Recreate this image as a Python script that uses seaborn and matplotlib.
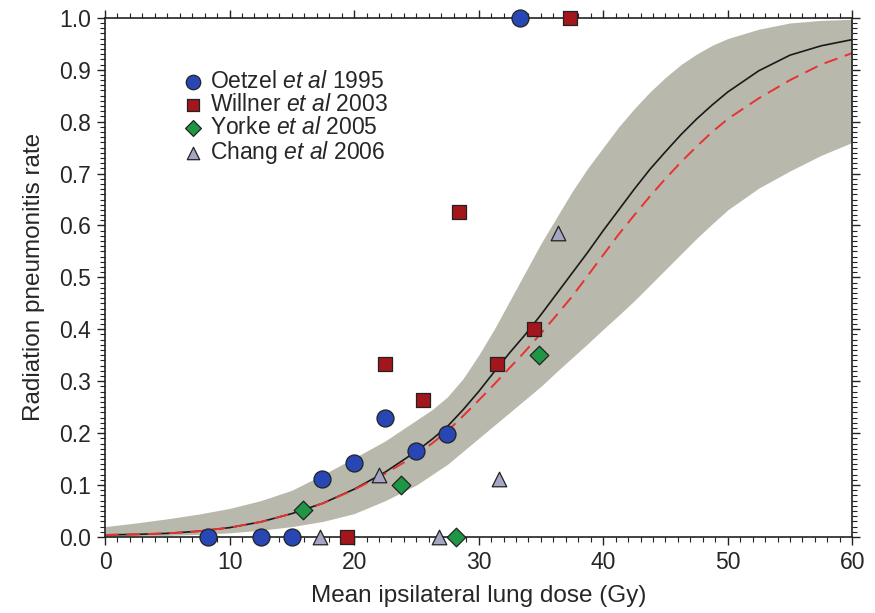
import numpy as np
import pandas as pd
import matplotlib
matplotlib.use("Agg")
import matplotlib.pyplot as plt
from matplotlib.ticker import MultipleLocator, FormatStrFormatter
import seaborn as sns

# ---- data ----
oetzel_x = [8.3, 12.5, 15.0, 17.45, 20.0, 22.5, 25.0, 27.45, 33.3]
oetzel_y = [0.0, 0.0, 0.0, 0.111, 0.143, 0.23, 0.166, 0.199, 1.0]

willner_x = [19.4, 22.5, 25.5, 28.45, 31.45, 34.45, 37.3]
willner_y = [0.0, 0.333, 0.263, 0.625, 0.333, 0.40, 1.0]

yorke_x = [15.9, 23.8, 28.2, 34.85]
yorke_y = [0.052, 0.10, 0.0, 0.35]

chang_x = [17.3, 22.0, 26.8, 31.6, 36.4]
chang_y = [0.0, 0.12, 0.0, 0.112, 0.586]

dose = [0, 2.5, 5, 7.5, 10, 12.5, 15, 17.5, 20, 22.5,
        25, 26.25, 27.5, 28.75, 30, 31.25, 32.5, 33.75, 35, 36.25, 37.5,
        38.75, 40, 41.25, 42.5, 43.75, 45, 46.25, 47.5, 48.75, 50,
        52.5, 55, 57.5, 60]
fit_black = [0.004, 0.005, 0.007, 0.011, 0.018, 0.029, 0.045, 0.065, 0.092, 0.125,
             0.165, 0.188, 0.213, 0.245, 0.28, 0.318, 0.355, 0.39, 0.428, 0.468, 0.508,
             0.548, 0.59, 0.63, 0.67, 0.708, 0.742, 0.775, 0.805, 0.832, 0.857,
             0.898, 0.928, 0.946, 0.958]
fit_red = [0.004, 0.005, 0.007, 0.011, 0.018, 0.029, 0.045, 0.065, 0.091, 0.122,
           0.158, 0.18, 0.204, 0.233, 0.263, 0.294, 0.326, 0.358, 0.392, 0.427, 0.463,
           0.503, 0.543, 0.583, 0.62, 0.656, 0.69, 0.722, 0.752, 0.78, 0.805,
           0.845, 0.88, 0.91, 0.932]
band_low = [0.0, 0.002, 0.003, 0.005, 0.008, 0.013, 0.02, 0.03, 0.045, 0.07,
            0.10, 0.12, 0.14, 0.165, 0.19, 0.215, 0.24, 0.265, 0.29, 0.318, 0.345,
            0.372, 0.40, 0.427, 0.455, 0.485, 0.515, 0.545, 0.575, 0.603, 0.63,
            0.672, 0.705, 0.735, 0.76]
band_high = [0.02, 0.027, 0.035, 0.044, 0.055, 0.07, 0.09, 0.12, 0.152, 0.185,
             0.225, 0.245, 0.27, 0.305, 0.35, 0.40, 0.455, 0.51, 0.565, 0.615, 0.665,
             0.71, 0.75, 0.79, 0.825, 0.857, 0.885, 0.91, 0.93, 0.947, 0.96,
             0.978, 0.99, 0.995, 0.997]

sns.set_theme(style="ticks")
plt.rcParams['font.family'] = ['Liberation Sans', 'DejaVu Sans']
plt.rcParams['mathtext.fontset'] = 'custom'
plt.rcParams['mathtext.rm'] = 'Liberation Sans'
plt.rcParams['mathtext.it'] = 'Liberation Sans:italic'

fig = plt.figure(figsize=(8.75, 6.13), dpi=100)
ax = fig.add_axes([0.12, 0.124, 0.854, 0.847])

ax.fill_between(dose, band_low, band_high, color='#b8b8ac', linewidth=0, zorder=1)

curves = pd.DataFrame({'dose': dose, 'black': fit_black, 'red': fit_red})
sns.lineplot(data=curves, x='dose', y='black', ax=ax, color='#1a1a1a', lw=1.2,
             zorder=2, solid_joinstyle='round')
sns.lineplot(data=curves, x='dose', y='red', ax=ax, color='#e83232', lw=1.4,
             linestyle=(0, (7, 4)), zorder=2, dash_joinstyle='round')

studies = [
    ('Oetzel $\\it{et\\ al}$ 1995', oetzel_x, oetzel_y, 'o', '#2846b4', 150),
    ('Willner $\\it{et\\ al}$ 2003', willner_x, willner_y, 's', '#a3161c', 110),
    ('Yorke $\\it{et\\ al}$ 2005', yorke_x, yorke_y, 'D', '#1e9646', 90),
    ('Chang $\\it{et\\ al}$ 2006', chang_x, chang_y, '^', '#a4a6c4', 110),
]
for label, xs, ys, mk, col, sz in studies:
    df = pd.DataFrame({'x': xs, 'y': ys})
    sns.scatterplot(data=df, x='x', y='y', ax=ax, marker=mk, color=col, s=sz,
                    edgecolor='#222222', linewidth=0.9, label=label,
                    zorder=4, clip_on=False)

ax.set_xlim(0, 60)
ax.set_ylim(0, 1.0)
ax.xaxis.set_major_locator(MultipleLocator(10))
ax.xaxis.set_minor_locator(MultipleLocator(1))
ax.yaxis.set_major_locator(MultipleLocator(0.1))
ax.yaxis.set_minor_locator(MultipleLocator(0.01))
ax.yaxis.set_major_formatter(FormatStrFormatter('%.1f'))
ax.tick_params(which='both', direction='out', top=True, right=True,
               labeltop=False, labelright=False, color='#222222')
ax.tick_params(which='major', length=6, width=1.0, labelsize=16.5, pad=4)
ax.tick_params(which='minor', length=3.5, width=0.8)
for sp in ax.spines.values():
    sp.set_color('#222222')
    sp.set_linewidth(1.2)

ax.set_xlabel('Mean ipsilateral lung dose (Gy)', fontsize=17.5, labelpad=8)
ax.set_ylabel('Radiation pneumonitis rate', fontsize=17.5, labelpad=10)

leg = ax.legend(loc='upper left', bbox_to_anchor=(0.09, 0.917), frameon=False,
                fontsize=16.5, handlelength=1.0, handletextpad=0.25,
                labelspacing=0.0, borderaxespad=0, markerscale=0.85)

fig.savefig('out.png', dpi=100)
